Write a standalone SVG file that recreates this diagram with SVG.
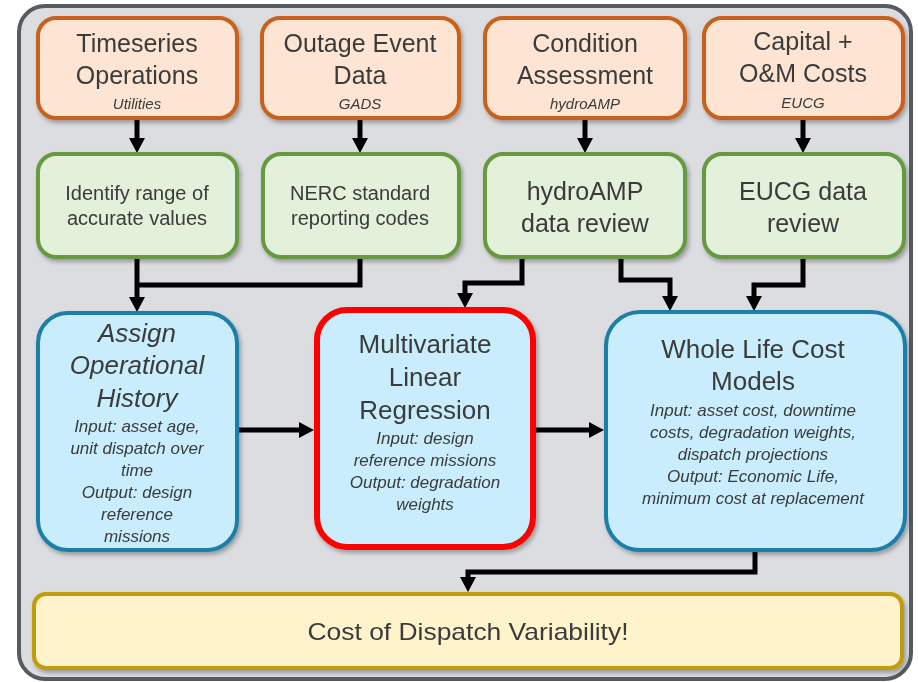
<svg xmlns="http://www.w3.org/2000/svg" width="918" height="682" viewBox="0 0 918 682">
<style>
text{font-family:"Liberation Sans",Arial,sans-serif;fill:#3b3b3b;text-anchor:middle}
.big{font-size:25px}
.bigi{font-size:26px;font-style:italic}
.blt{font-size:26px}
.sm{font-size:15px;font-style:italic}
.mid{font-size:20px}
.smi{font-size:17px;font-style:italic}
.or{fill:#fde4d3;stroke:#c9611c;stroke-width:4}
.gr{fill:#e3f0da;stroke:#66993f;stroke-width:4}
.bl{fill:#c9edfc;stroke:#1d7fa8;stroke-width:4}
.ye{fill:#fff3cc;stroke:#c19c10;stroke-width:4}
.cn{fill:none;stroke:#000;stroke-width:5;marker-end:url(#ah)}
.cn0{fill:none;stroke:#000;stroke-width:5}
</style>
<defs>
<marker id="ah" markerUnits="userSpaceOnUse" markerWidth="16" markerHeight="16" refX="0" refY="8" orient="auto" viewBox="0 0 16 16">
<path d="M0,0 L15,8 L0,16 z" fill="#000"/>
</marker>
<filter id="sh" x="-10%" y="-10%" width="125%" height="130%">
<feDropShadow dx="2" dy="3" stdDeviation="2" flood-color="#000" flood-opacity="0.3"/>
</filter>
</defs>
<rect x="19" y="6" width="892" height="673" rx="26" fill="#dcdde1" stroke="#565b62" stroke-width="4"/>

<g id="connectors">
<path class="cn" d="M137 119 V138"/>
<path class="cn" d="M360 119 V138"/>
<path class="cn" d="M585 119 V138"/>
<path class="cn" d="M803 119 V138"/>
<path class="cn0" d="M360 257 V285 H137"/>
<path class="cn" d="M137 257 V297"/>
<path class="cn" d="M522 257 V283 H465 V293"/>
<path class="cn" d="M621 257 V280 H670 V296"/>
<path class="cn" d="M803 257 V285 H754 V296"/>
<path class="cn" d="M237 430 H299"/>
<path class="cn" d="M533 430 H589"/>
<path class="cn" d="M755 550 V572 H468 V577"/>
</g>

<g id="n-timeseries" filter="url(#sh)">
<rect class="or" x="38" y="18" width="199" height="100" rx="18"/>
<text class="big" x="137" y="52">Timeseries</text>
<text class="big" x="137" y="84">Operations</text>
<text class="sm" x="137" y="109">Utilities</text>
</g>
<g id="n-outage" filter="url(#sh)">
<rect class="or" x="262" y="18" width="197" height="100" rx="18"/>
<text class="big" x="360" y="52">Outage Event</text>
<text class="big" x="360" y="84">Data</text>
<text class="sm" x="360" y="109">GADS</text>
</g>
<g id="n-condition" filter="url(#sh)">
<rect class="or" x="485" y="18" width="200" height="100" rx="18"/>
<text class="big" x="585" y="52">Condition</text>
<text class="big" x="585" y="84">Assessment</text>
<text class="sm" x="585" y="109">hydroAMP</text>
</g>
<g id="n-capital" filter="url(#sh)">
<rect class="or" x="704" y="18" width="199" height="100" rx="18"/>
<text class="big" x="803" y="50">Capital +</text>
<text class="big" x="803" y="82">O&amp;M Costs</text>
<text class="sm" x="803" y="108">EUCG</text>
</g>

<g id="n-identify" filter="url(#sh)">
<rect class="gr" x="38" y="154" width="199" height="103" rx="18"/>
<text class="mid" x="137" y="200">Identify range of</text>
<text class="mid" x="137" y="225">accurate values</text>
</g>
<g id="n-nerc" filter="url(#sh)">
<rect class="gr" x="263" y="154" width="196" height="103" rx="18"/>
<text class="mid" x="360" y="200">NERC standard</text>
<text class="mid" x="360" y="225">reporting codes</text>
</g>
<g id="n-hydroamp" filter="url(#sh)">
<rect class="gr" x="485" y="154" width="200" height="103" rx="18"/>
<text class="big" x="585" y="200">hydroAMP</text>
<text class="big" x="585" y="232">data review</text>
</g>
<g id="n-eucg" filter="url(#sh)">
<rect class="gr" x="704" y="154" width="200" height="103" rx="18"/>
<text class="big" x="803" y="200">EUCG data</text>
<text class="big" x="803" y="232">review</text>
</g>

<g id="n-assign" filter="url(#sh)">
<rect class="bl" x="38" y="313" width="199" height="237" rx="30"/>
<text class="bigi" x="137" y="342">Assign</text>
<text class="bigi" x="137" y="374">Operational</text>
<text class="bigi" x="137" y="407">History</text>
<text class="smi" x="137" y="432">Input: asset age,</text>
<text class="smi" x="137" y="454">unit dispatch over</text>
<text class="smi" x="137" y="476">time</text>
<text class="smi" x="137" y="498">Output: design</text>
<text class="smi" x="137" y="520">reference</text>
<text class="smi" x="137" y="542">missions</text>
</g>
<g id="n-multivariate" filter="url(#sh)">
<rect class="bl" x="317" y="310" width="216" height="237" rx="30" style="stroke:#ff0000;stroke-width:6"/>
<text class="blt" x="425" y="353">Multivariate</text>
<text class="blt" x="425" y="386">Linear</text>
<text class="blt" x="425" y="419">Regression</text>
<text class="smi" x="425" y="444">Input: design</text>
<text class="smi" x="425" y="466">reference missions</text>
<text class="smi" x="425" y="488">Output: degradation</text>
<text class="smi" x="425" y="510">weights</text>
</g>
<g id="n-wholelife" filter="url(#sh)">
<rect class="bl" x="606" y="312" width="299" height="238" rx="34"/>
<text class="blt" x="753" y="358">Whole Life Cost</text>
<text class="blt" x="753" y="390">Models</text>
<text class="smi" x="753" y="416">Input: asset cost, downtime</text>
<text class="smi" x="753" y="438">costs, degradation weights,</text>
<text class="smi" x="753" y="460">dispatch projections</text>
<text class="smi" x="753" y="482">Output: Economic Life,</text>
<text class="smi" x="753" y="504">minimum cost at replacement</text>
</g>

<g id="n-cost" filter="url(#sh)">
<rect class="ye" x="34" y="594" width="868" height="74" rx="12"/>
<text x="468" y="640" style="font-size:24px" textLength="321" lengthAdjust="spacingAndGlyphs">Cost of Dispatch Variability!</text>
</g>
</svg>
